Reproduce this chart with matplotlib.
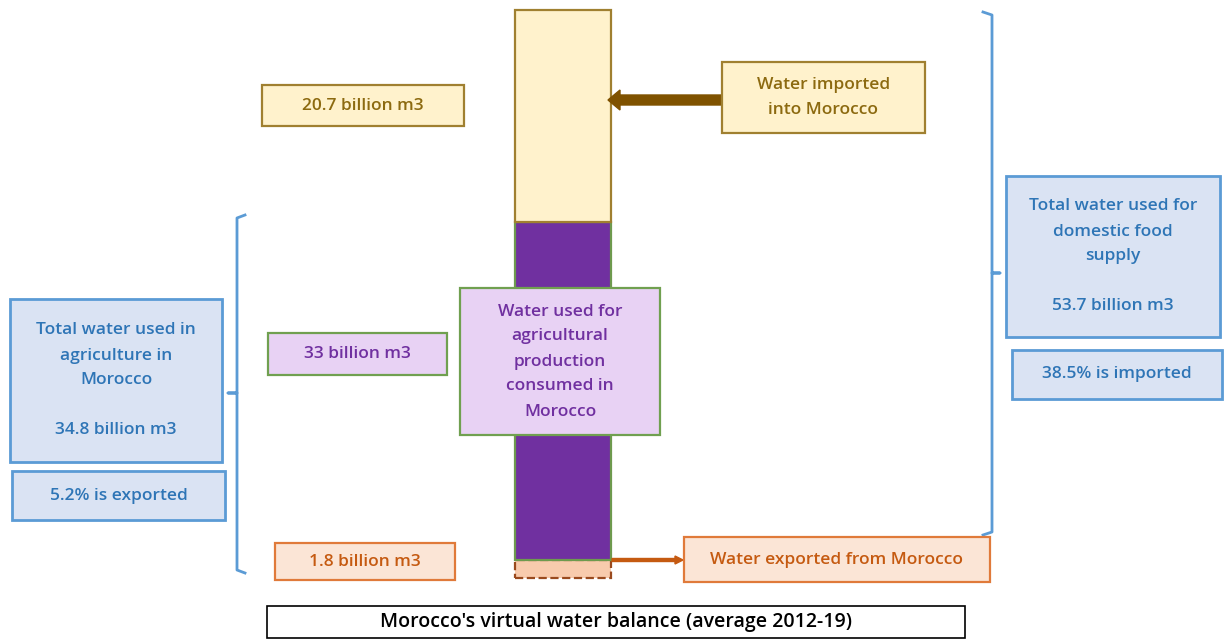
import matplotlib
matplotlib.use("Agg")
import matplotlib.pyplot as plt
from matplotlib.patches import Rectangle, FancyArrow

# virtual water balance, billion m3 (average 2012-19)
segments = ["exported", "consumed", "imported"]
values = [1.8, 33.0, 20.7]
title = "Morocco's virtual water balance (average 2012-19)"

exported, consumed, imported = values
agri_total = consumed + exported
food_total = consumed + imported
pct_exported = exported / agri_total * 100
pct_imported = imported / food_total * 100

plt.rcParams['font.family'] = ['Open Sans', 'DejaVu Sans']

fig = plt.figure(figsize=(12.25, 6.4), dpi=100)

# stacked bar (bottom = 578 px, top = 10 px)
ax_bar = fig.add_axes([515 / 1225, (640 - 578) / 640, 96 / 1225, 568 / 640])
seg_fill = ['#F8CBAD', '#7030A0', '#FFF2CC']
seg_edge = ['#9A4A1E', '#6E9A4E', '#A08030']
seg_ls = ['--', '-', '-']
bottom = 0
for v, fc, ec, ls in zip(values, seg_fill, seg_edge, seg_ls):
    ax_bar.bar(0, v, bottom=bottom, width=1, color=fc, edgecolor=ec,
               linewidth=1.6, linestyle=ls, clip_on=False)
    bottom += v
ax_bar.set_xlim(-0.5, 0.5)
ax_bar.set_ylim(0, bottom)
ax_bar.axis('off')

# overlay in pixel coordinates for the annotation boxes
ax = fig.add_axes([0, 0, 1, 1])
ax.set_xlim(0, 1225)
ax.set_ylim(640, 0)
ax.axis('off')


def box(x0, y0, x1, y1, text, fc, ec, tc, lw=1.6, size=12.5, weight='semibold'):
    ax.add_patch(Rectangle((x0, y0), x1 - x0, y1 - y0, facecolor=fc,
                           edgecolor=ec, linewidth=lw, zorder=3))
    ax.text((x0 + x1) / 2, (y0 + y1) / 2, text, ha='center', va='center',
            color=tc, fontsize=size, linespacing=1.75, zorder=4,
            fontweight=weight)


yel_fc, yel_ec, yel_tc = '#FFF2CC', '#A08030', '#8C6A10'
pur_fc, pur_ec, pur_tc = '#E8D2F4', '#70A050', '#7030A0'
pea_fc, pea_ec, pea_tc = '#FBE5D6', '#E07A3A', '#C55A11'
blu_fc, blu_ec, blu_tc = '#DAE3F3', '#5B9BD5', '#2E75B6'

box(262, 85, 464, 126, f"{imported:g} billion m3", yel_fc, yel_ec, yel_tc)
box(722, 62, 925, 133, "Water imported\ninto Morocco", yel_fc, yel_ec, yel_tc)
box(268, 333, 447, 375, f"{consumed:g} billion m3", pur_fc, pur_ec, pur_tc)
box(460, 288, 660, 435, "Water used for\nagricultural\nproduction\nconsumed in\nMorocco",
    pur_fc, pur_ec, pur_tc)
box(275, 543, 455, 580, f"{exported:g} billion m3", pea_fc, pea_ec, pea_tc)
box(684, 537, 990, 582, "Water exported from Morocco", pea_fc, pea_ec, pea_tc)

box(10, 299, 222, 462,
    f"Total water used in\nagriculture in\nMorocco\n\n{agri_total:.1f} billion m3",
    blu_fc, blu_ec, blu_tc, lw=2)
box(12, 471, 225, 520, f"{pct_exported:.1f}% is exported", blu_fc, blu_ec, blu_tc, lw=2)
box(1006, 176, 1220, 337,
    f"Total water used for\ndomestic food\nsupply\n\n{food_total:.1f} billion m3",
    blu_fc, blu_ec, blu_tc, lw=2)
box(1012, 350, 1222, 399, f"{pct_imported:.1f}% is imported", blu_fc, blu_ec, blu_tc, lw=2)

box(267, 606, 965, 638, title, 'white', 'black', 'black', lw=1.2, size=14)

# arrows
ax.add_patch(FancyArrow(722, 100, -114, 0, width=10, head_width=20, head_length=12,
                        length_includes_head=True, color='#7F5200', zorder=2))
ax.add_patch(FancyArrow(612, 560, 71, 0, width=3, head_width=8, head_length=8,
                        length_includes_head=True, color='#C55A11', zorder=2))

# brackets
ax.plot([245, 237, 237, 228, 237, 237, 245],
        [215, 218, 393, 393, 393, 570, 573], color=blu_ec, lw=2, zorder=2)
ax.plot([983, 992, 992, 1000, 992, 992, 983],
        [12, 15, 273, 273, 273, 532, 535], color=blu_ec, lw=2, zorder=2)

fig.savefig('out.png', dpi=100)
